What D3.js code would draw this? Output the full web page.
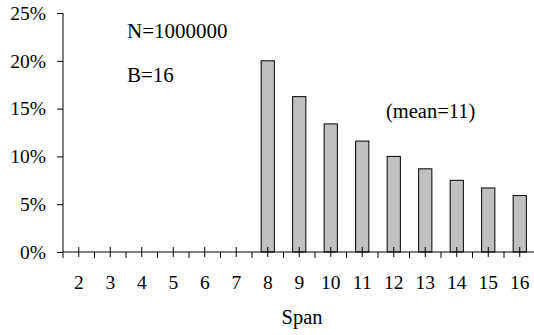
<!DOCTYPE html>
<html>
<head>
<meta charset="utf-8">
<script src="https://cdn.jsdelivr.net/npm/d3@7"></script>
<style>
  html, body { margin: 0; padding: 0; background: #fff; }
  svg { display: block; }
  text { font-family: "Liberation Serif", "Times New Roman", serif; fill: #000; }
</style>
</head>
<body>
<svg id="chart" width="534" height="335"></svg>
<script>
// Span distribution (percent of runs) for each span length
const spans = [2, 3, 4, 5, 6, 7, 8, 9, 10, 11, 12, 13, 14, 15, 16];
const percents = [0, 0, 0, 0, 0, 0, 20.0, 16.25, 13.4, 11.6, 10.0, 8.7, 7.5, 6.7, 5.9];
const yTicks = [0, 5, 10, 15, 20, 25];
const notes = ["N=1000000", "B=16", "(mean=11)"];
const xTitle = "Span";

const svg = d3.select("#chart");
const plotLeft = 63, plotTop = 13, plotBottom = 252;
const step = 31.5;
const plotRight = plotLeft + step * spans.length;

const x = d3.scaleBand()
  .domain(spans)
  .range([plotLeft, plotRight])
  .paddingInner(0.58)
  .paddingOuter(0.29);

const y = d3.scaleLinear().domain([0, 25]).range([plotBottom, plotTop]);

const data = spans.map((s, i) => ({ span: s, pct: percents[i] }));

// bars
svg.append("g")
  .selectAll("rect")
  .data(data.filter(d => d.pct > 0))
  .join("rect")
  .attr("x", d => x(d.span))
  .attr("y", d => y(d.pct))
  .attr("width", x.bandwidth())
  .attr("height", d => y(0) - y(d.pct))
  .attr("fill", "#c0c0c0")
  .attr("stroke", "#000")
  .attr("stroke-width", 1);

// y axis
const yAxis = d3.axisLeft(y)
  .tickValues(yTicks)
  .tickFormat(d => d + "%")
  .tickSize(6)
  .tickPadding(11)
  .tickSizeOuter(0);
const gy = svg.append("g")
  .attr("transform", `translate(${plotLeft},0)`)
  .call(yAxis);
gy.select(".domain").remove();
gy.attr("font-family", null).attr("font-size", null);
gy.selectAll("text").style("font-size", "19.5px");
gy.selectAll("line").attr("stroke", "#000");
svg.append("line")
  .attr("x1", plotLeft).attr("x2", plotLeft)
  .attr("y1", y(25)).attr("y2", plotBottom + 6)
  .attr("stroke", "#000");

// x axis: line, category ticks crossing the axis, boundary ticks below
svg.append("line")
  .attr("x1", plotLeft).attr("x2", plotRight)
  .attr("y1", plotBottom).attr("y2", plotBottom)
  .attr("stroke", "#000");

const center = d => x(d) + x.bandwidth() / 2;
const gx = svg.append("g");
gx.selectAll("line.c")
  .data(spans)
  .join("line")
  .attr("class", "c")
  .attr("x1", center).attr("x2", center)
  .attr("y1", plotBottom - 5).attr("y2", plotBottom + 5)
  .attr("stroke", "#000");
gx.selectAll("line.b")
  .data(spans.slice(1))
  .join("line")
  .attr("class", "b")
  .attr("x1", d => x(d) - x.step() * x.paddingInner() / 2)
  .attr("x2", d => x(d) - x.step() * x.paddingInner() / 2)
  .attr("y1", plotBottom).attr("y2", plotBottom + 6)
  .attr("stroke", "#000");
gx.selectAll("text")
  .data(spans)
  .join("text")
  .attr("x", center)
  .attr("y", 289)
  .attr("text-anchor", "middle")
  .style("font-size", "19.5px")
  .text(d => d);

// axis title
svg.append("text")
  .attr("x", 302)
  .attr("y", 324)
  .attr("text-anchor", "middle")
  .style("font-size", "20.5px")
  .text(xTitle);

// annotations
svg.append("text").attr("x", 127).attr("y", 38).style("font-size", "21px").text(notes[0]);
svg.append("text").attr("x", 127).attr("y", 81.5).style("font-size", "21px").text(notes[1]);
svg.append("text").attr("x", 386).attr("y", 118).style("font-size", "20.5px").text(notes[2]);
</script>
</body>
</html>
